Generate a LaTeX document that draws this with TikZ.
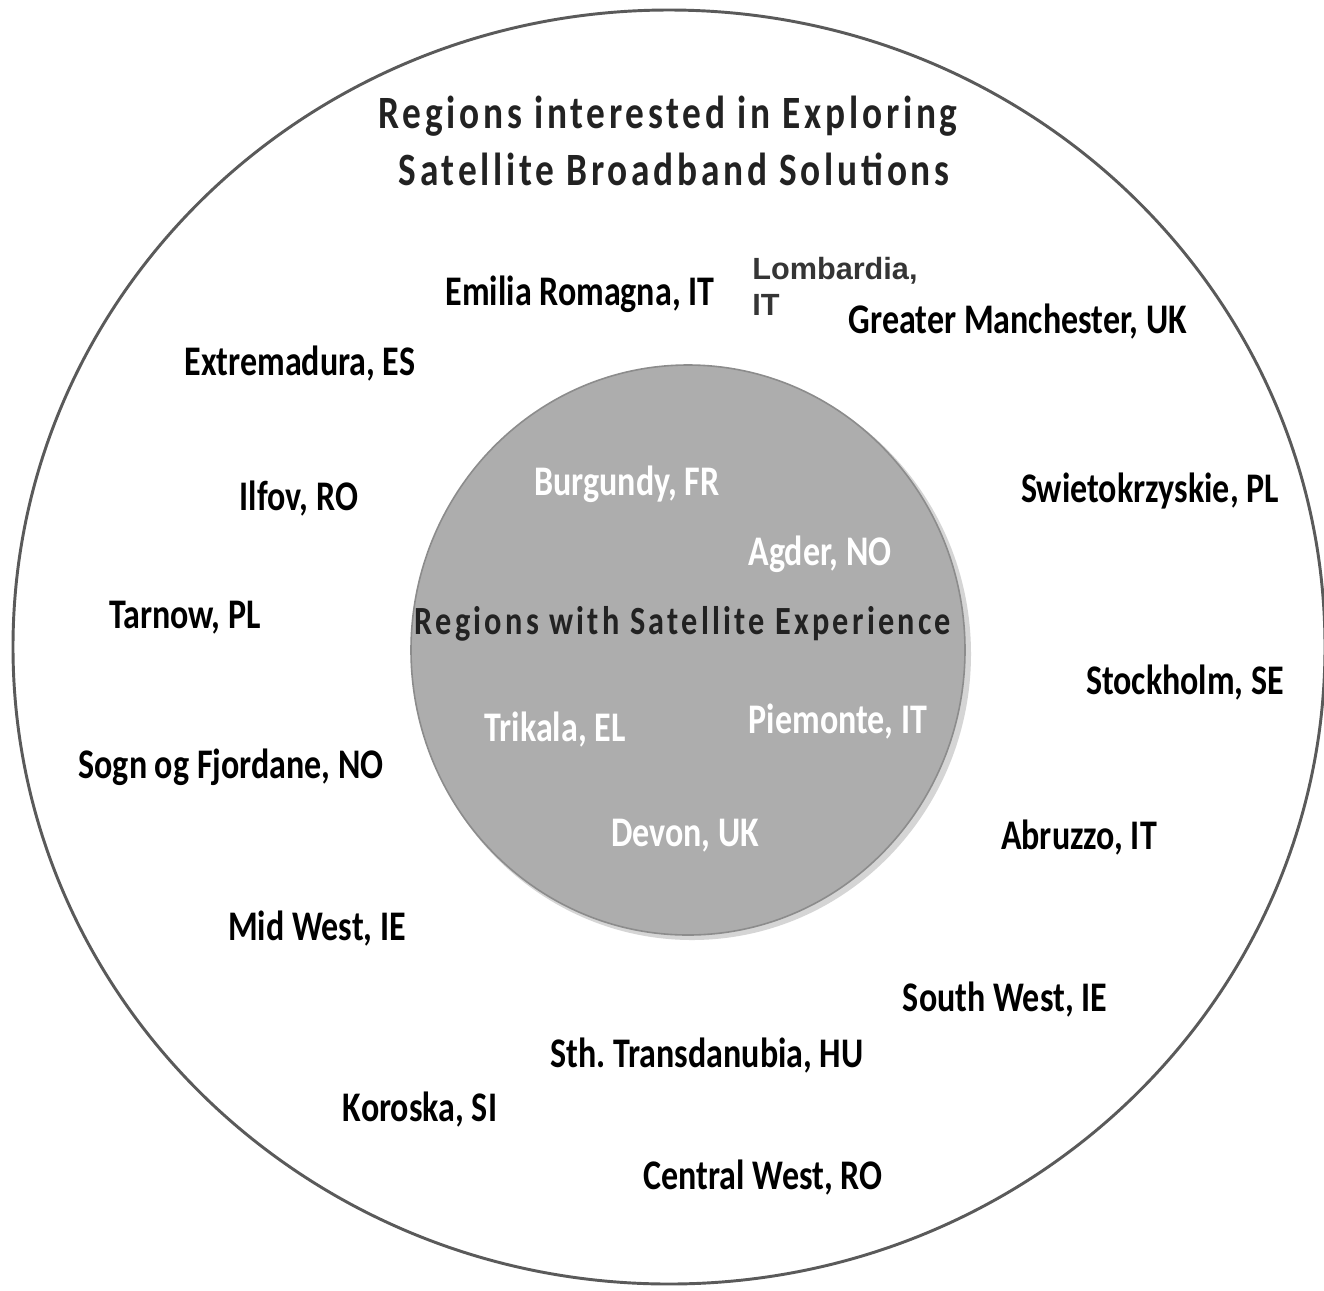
\documentclass[tikz,border=0pt]{standalone}
\usepackage{fontspec}
\setmainfont{Carlito}
\newfontfamily\spacedfont{Carlito}[LetterSpace=10]
\newfontfamily\arialfont{Liberation Sans}
\definecolor{ringline}{HTML}{5A5A5A}
\definecolor{innerfill}{HTML}{ADADAD}
\definecolor{innershade}{HTML}{8C8C8C}
\definecolor{titlegray}{HTML}{222222}
\definecolor{lombgray}{HTML}{353535}
\newcommand{\tall}[1]{\scalebox{1}[1.24]{#1}}
\frenchspacing
\tikzset{
  region/.style={anchor=base, inner sep=0pt, font=\fontsize{25.5pt}{27pt}\selectfont\bfseries\frenchspacing, text=black},
  inregion/.style={region, text=white},
  titletext/.style={anchor=base, inner sep=0pt, font=\fontsize{28pt}{30pt}\selectfont\spacedfont\bfseries, text=titlegray},
  lomb/.style={anchor=base west, inner sep=0pt, font=\fontsize{23pt}{26.3pt}\selectfont\arialfont\bfseries, text=lombgray, align=left}
}
\begin{document}
\begin{tikzpicture}[x=0.75pt,y=-0.75pt]
\useasboundingbox (0,0) rectangle (1324,1290);
\fill[white] (0,0) rectangle (1324,1290);
% outer ring
\draw[ringline, line width=2.2pt] (669,647) ellipse [x radius=656, y radius=637];
% inner disc with shadow
\fill[innershade!60, opacity=0.6] (692,654) ellipse [x radius=279, y radius=286];
\fill[innerfill] (688,650) ellipse [x radius=277, y radius=285];
\draw[innershade, line width=1.2pt] (688,650) ellipse [x radius=277, y radius=285];
% titles
\node[titletext] (t1) at (668,128) {\tall{Regions interested in Exploring}};
\node[titletext] (t2) at (674,185) {\tall{Satellite Broadband Solutions}};
\node[titletext, font=\fontsize{24.2pt}{26pt}\selectfont\spacedfont\bfseries] (t3) at (683,634) {\tall{Regions with Satellite Experience}};
% outer regions
\node[region] (emilia) at (580,305) {\tall{Emilia Romagna, IT}};
\node[lomb] (lombardia) at (752,315) {Lombardia,\\IT};
\node[region] (manchester) at (1018,333) {\tall{Greater Manchester, UK}};
\node[region] (extremadura) at (300,375) {\tall{Extremadura, ES}};
\node[region] (ilfov) at (299,510) {\tall{Ilfov, RO}};
\node[region] (swieto) at (1150,502) {\tall{Swietokrzyskie, PL}};
\node[region] (tarnow) at (185,628) {\tall{Tarnow, PL}};
\node[region] (stockholm) at (1185,694) {\tall{Stockholm, SE}};
\node[region] (sogn) at (231,778) {\tall{Sogn og Fjordane, NO}};
\node[region] (abruzzo) at (1079,849) {\tall{Abruzzo, IT}};
\node[region] (midwest) at (317,940) {\tall{Mid West, IE}};
\node[region] (southwest) at (1005,1011) {\tall{South West, IE}};
\node[region] (sth) at (707,1067) {\tall{Sth. Transdanubia, HU}};
\node[region] (koroska) at (420,1121) {\tall{Koroska, SI}};
\node[region] (central) at (763,1189) {\tall{Central West, RO}};
% inner regions
\node[inregion] (burgundy) at (627,495) {\tall{Burgundy, FR}};
\node[inregion] (agder) at (820,565) {\tall{Agder, NO}};
\node[inregion] (trikala) at (555,741) {\tall{Trikala, EL}};
\node[inregion] (piemonte) at (838,733) {\tall{Piemonte, IT}};
\node[inregion] (devon) at (685,846) {\tall{Devon, UK}};
\end{tikzpicture}
\end{document}
